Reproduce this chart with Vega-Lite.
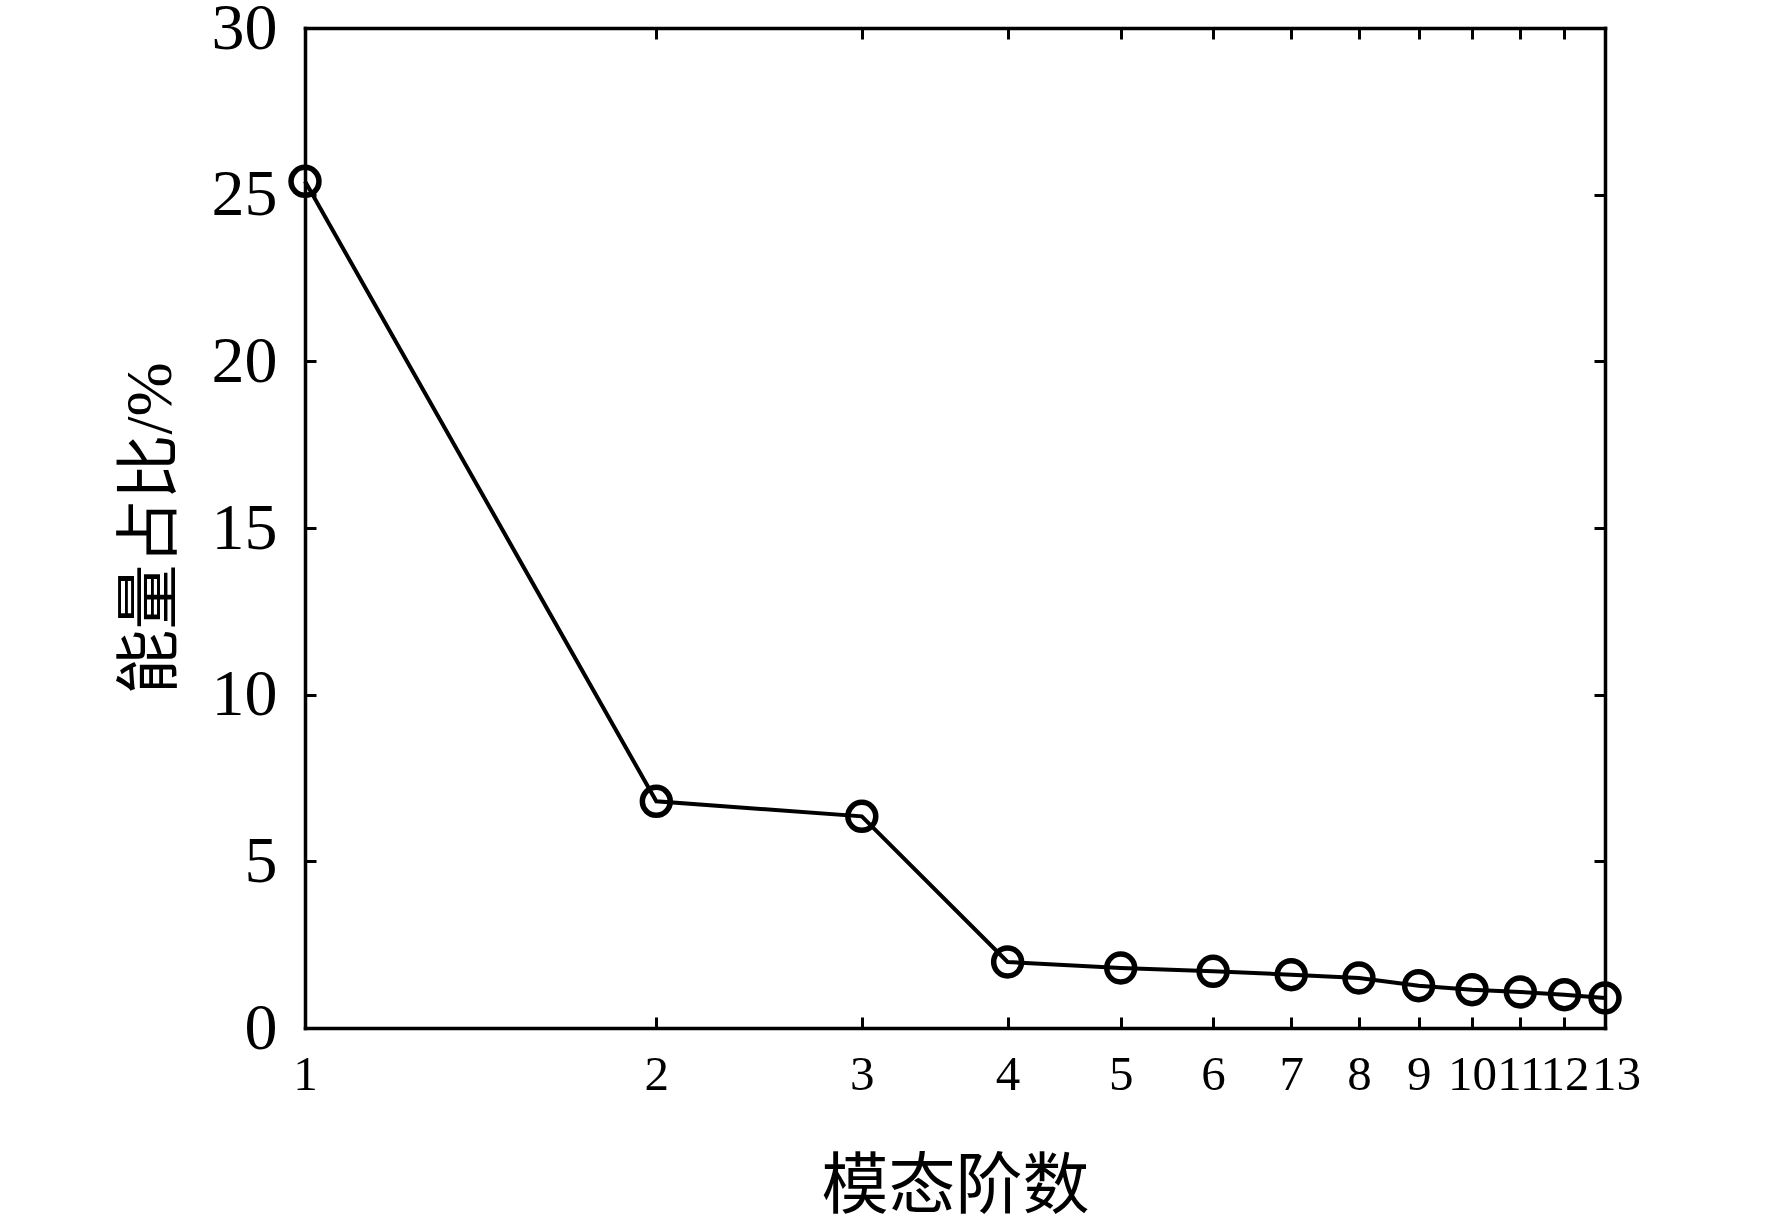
{
  "$schema": "https://vega.github.io/schema/vega-lite/v6.json",
  "width": 1300,
  "height": 1000,
  "autosize": "none",
  "padding": {"left": 305, "top": 28, "right": 167, "bottom": 197},
  "background": "white",
  "config": {
    "view": {"stroke": null},
    "axis": {
      "grid": false,
      "domainColor": "black",
      "domainWidth": 3.5,
      "domainCap": "square",
      "tickColor": "black",
      "tickWidth": 3,
      "tickSize": -11,
      "labelColor": "black",
      "labelFont": "Liberation Serif",
      "labelOverlap": false,
      "labelFlush": false,
      "labelBound": false,
      "titleColor": "black",
      "titleFont": "Liberation Serif, Noto Sans CJK SC",
      "titleFontWeight": "normal"
    }
  },
  "data": {
    "values": [
      {"mode": 1, "energy": 25.4},
      {"mode": 2, "energy": 6.8},
      {"mode": 3, "energy": 6.35},
      {"mode": 4, "energy": 1.98},
      {"mode": 5, "energy": 1.8},
      {"mode": 6, "energy": 1.7},
      {"mode": 7, "energy": 1.6},
      {"mode": 8, "energy": 1.5},
      {"mode": 9, "energy": 1.27},
      {"mode": 10, "energy": 1.15},
      {"mode": 11, "energy": 1.08},
      {"mode": 12, "energy": 1.0},
      {"mode": 13, "energy": 0.9}
    ]
  },
  "layer": [
    {
      "mark": {"type": "line", "color": "black", "strokeWidth": 4},
      "encoding": {
        "x": {
          "field": "mode",
          "type": "quantitative",
          "scale": {"type": "log", "domain": [1, 13], "nice": false, "zero": false},
          "axis": {
            "orient": "bottom",
            "values": [1, 2, 3, 4, 5, 6, 7, 8, 9, 10, 11, 12, 13],
            "format": "d",
            "labelFontSize": 49,
            "labelPadding": 33,
            "labelOffset": {"condition": {"test": "datum.value == 13", "value": 11}, "value": 0},
            "title": "模态阶数",
            "titleFontSize": 67,
            "titlePadding": 55
          }
        },
        "y": {
          "field": "energy",
          "type": "quantitative",
          "scale": {"domain": [0, 30], "nice": false},
          "axis": {
            "orient": "left",
            "values": [0, 5, 10, 15, 20, 25, 30],
            "format": "d",
            "labelFontSize": 66,
            "labelPadding": 39,
            "title": "能量占比/%",
            "titleFontSize": 65,
            "titlePadding": 27
          }
        }
      }
    },
    {
      "mark": {"type": "point", "shape": "circle", "filled": false, "color": "black", "strokeWidth": 5.5, "size": 780, "opacity": 1},
      "encoding": {
        "x": {
          "field": "mode",
          "type": "quantitative",
          "axis": {
            "orient": "top",
            "values": [1, 2, 3, 4, 5, 6, 7, 8, 9, 10, 11, 12, 13],
            "labels": false,
            "title": null
          }
        },
        "y": {
          "field": "energy",
          "type": "quantitative",
          "axis": {
            "orient": "right",
            "values": [0, 5, 10, 15, 20, 25, 30],
            "labels": false,
            "title": null
          }
        }
      }
    }
  ],
  "resolve": {"axis": {"x": "independent", "y": "independent"}}
}
